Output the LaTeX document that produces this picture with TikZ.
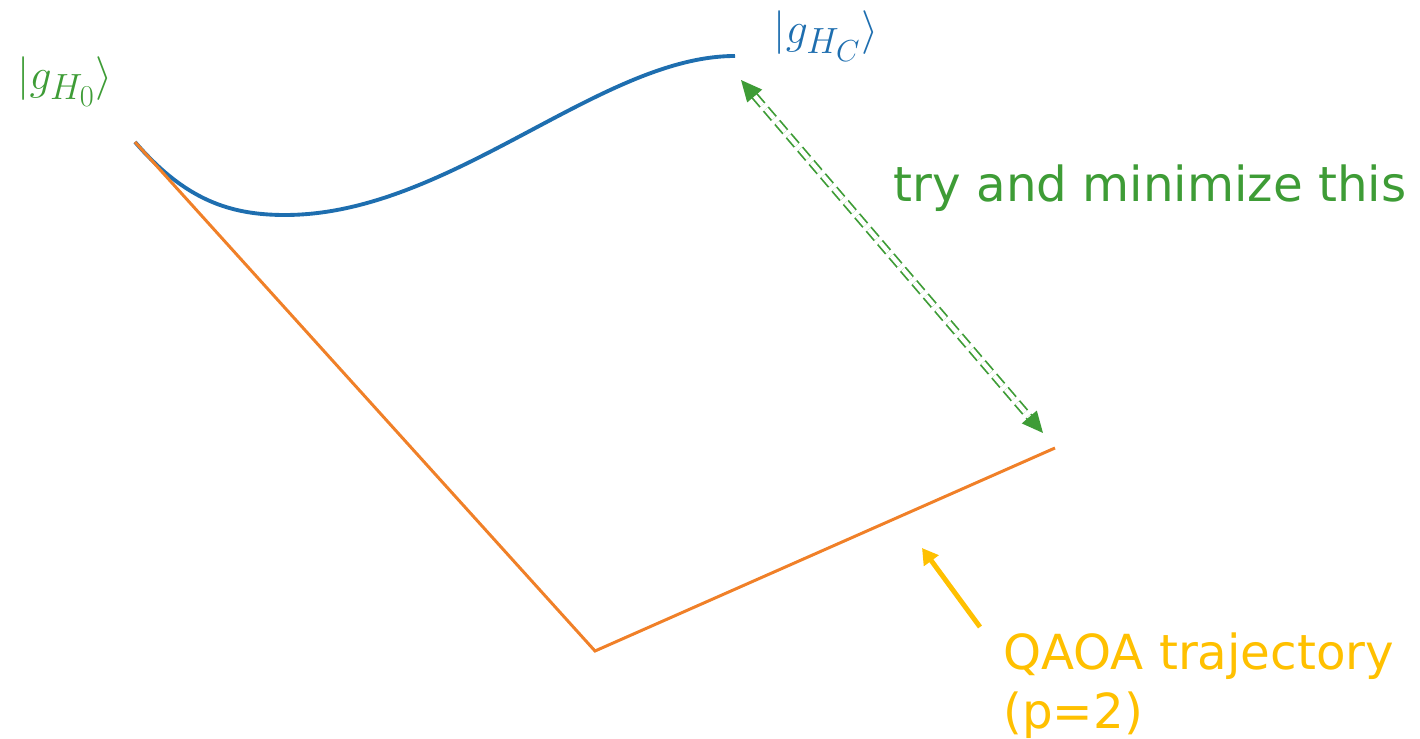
\documentclass[tikz,border=0pt]{standalone}
\usepackage{fontspec}
\setmainfont{DejaVu Sans}
\usetikzlibrary{arrows.meta}

\definecolor{stategreen}{RGB}{62,156,54}
\definecolor{stateblue}{RGB}{30,110,175}
\definecolor{pathorange}{RGB}{240,128,40}
\definecolor{noteyellow}{RGB}{255,192,0}

\begin{document}
\begin{tikzpicture}[x=0.02cm, y=-0.02cm, >=Triangle, every node/.style={font=\fontsize{27.5}{31}\selectfont}]
\useasboundingbox (0,0) rectangle (1420,739);
% states and corners of the trajectory
\coordinate (start) at (135,142);
\coordinate (dip) at (285,215);
\coordinate (target) at (735,56);
\coordinate (corner) at (595,651);
\coordinate (finish) at (1055,448);
\coordinate (gapA) at (741,80);
\coordinate (gapB) at (1043,433);
\coordinate (tail) at (980,627);
\coordinate (tip) at (922,548);
% curves
\draw[stateblue, line width=2.2pt] (start) .. controls (185,200) and (230,215) .. (dip)
  .. controls (450,215) and (600,56) .. (target);
\draw[pathorange, line width=1.7pt] (start) -- (corner) -- (finish);
\draw[stategreen, line width=1pt, double=white, double distance=2.5pt, dash pattern=on 7pt off 3pt,
  {Triangle[length=12pt, width=11pt]}-{Triangle[length=12pt, width=11pt]}] (gapA) -- (gapB);
\draw[noteyellow, line width=2.8pt, -{Triangle[length=9pt, width=10pt]}] (tail) -- (tip);
% labels
\node[stategreen, font=\fontsize{32}{34}\selectfont] (h0) at (65,82) {$|g_{H_0}\rangle$};
\node[stateblue, font=\fontsize{32}{34}\selectfont] (hc) at (826,36) {$|g_{H_C}\rangle$};
\node[stategreen] (gap) at (1150,188) {try and minimize this};
\node[noteyellow, align=left, anchor=north west, inner sep=0pt, font=\fontsize{27.5}{34}\selectfont] (qaoa) at (1003,632) {QAOA trajectory\\(p=2)};
\end{tikzpicture}
\end{document}
